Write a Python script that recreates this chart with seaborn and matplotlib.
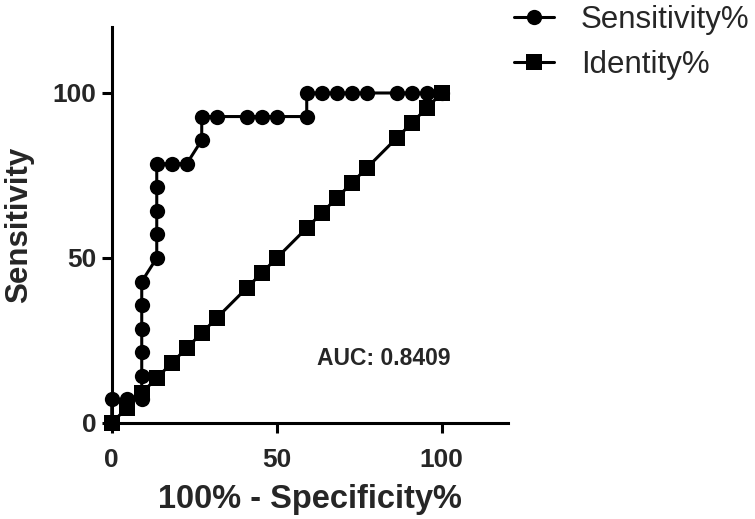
import matplotlib
matplotlib.use("Agg")
import matplotlib.pyplot as plt
from matplotlib.lines import Line2D
import seaborn as sns
import pandas as pd

# ROC points (x = 100% - specificity%, y = sensitivity%)
roc_x = [0, 0, 4.55, 9.09, 9.09, 9.09, 9.09, 9.09, 9.09, 13.64, 13.64, 13.64, 13.64,
         13.64, 18.18, 22.73, 27.27, 27.27, 31.82, 40.91, 45.45, 50.0, 59.09, 59.09,
         63.64, 68.18, 72.73, 77.27, 86.36, 90.91, 95.45, 100.0]
roc_y = [0, 7.14, 7.14, 7.14, 14.29, 21.43, 28.57, 35.71, 42.86, 50.0, 57.14, 64.29, 71.43,
         78.57, 78.57, 78.57, 85.71, 92.86, 92.86, 92.86, 92.86, 92.86, 92.86, 100.0,
         100.0, 100.0, 100.0, 100.0, 100.0, 100.0, 100.0, 100.0]
identity = [0, 4.55, 9.09, 13.64, 18.18, 22.73, 27.27, 31.82, 40.91, 45.45, 50.0,
            59.09, 63.64, 68.18, 72.73, 77.27, 86.36, 90.91, 95.45, 100.0]
series_names = ["Sensitivity%", "Identity%"]
ticks = [0, 50, 100]
auc_text = "AUC: 0.8409"

df = pd.concat([
    pd.DataFrame({"x": roc_x, "y": roc_y, "series": series_names[0]}),
    pd.DataFrame({"x": identity, "y": identity, "series": series_names[1]}),
], ignore_index=True)

sns.set_theme(style="ticks")
plt.rcParams["font.family"] = ["Liberation Sans", "DejaVu Sans"]

fig = plt.figure(figsize=(7.55, 5.19), dpi=100)
ax = fig.add_axes([0.148, 0.185, 0.5245, 0.763])

markers = {"Sensitivity%": "o", "Identity%": "s"}
sizes = {"Sensitivity%": 11, "Identity%": 11}
for name in series_names:
    sns.lineplot(data=df[df["series"] == name], x="x", y="y", ax=ax,
                 estimator=None, sort=False, color="black", linewidth=2.2,
                 marker=markers[name], markersize=sizes[name],
                 markeredgewidth=0, legend=False)
for ln in ax.lines:
    ln.set_clip_on(False)

ax.set_xlim(0, 120)
ax.set_ylim(0, 120)
ax.set_xticks(ticks)
ax.set_yticks(ticks)
sns.despine(ax=ax)
for s in ("left", "bottom"):
    ax.spines[s].set_linewidth(2.2)
    ax.spines[s].set_color("black")
ax.tick_params(length=7, width=2.2, color="black", labelsize=19)
ax.tick_params(axis="x", pad=11)
ax.tick_params(axis="y", pad=4)
for lab in ax.get_xticklabels() + ax.get_yticklabels():
    lab.set_fontweight("bold")

ax.set_xlabel("100% - Specificity%", fontsize=23.5, fontweight="bold", labelpad=9)
ax.set_ylabel("Sensitivity", fontsize=22.5, fontweight="bold", labelpad=13)

ax.text(82.5, 19.5, auc_text, fontsize=16.5, fontweight="bold", ha="center", va="center")

handles = [Line2D([], [], color="black", linewidth=2.2, marker=markers[n],
                  markersize=sizes[n], markeredgewidth=0) for n in series_names]
fig.legend(handles, series_names, loc="upper left", bbox_to_anchor=(0.676, 0.997),
           frameon=False, fontsize=22.5, handlelength=1.3, handletextpad=0.85,
           labelspacing=0.5, borderaxespad=0, borderpad=0.1)

fig.savefig("out.png", dpi=100, facecolor="white")
